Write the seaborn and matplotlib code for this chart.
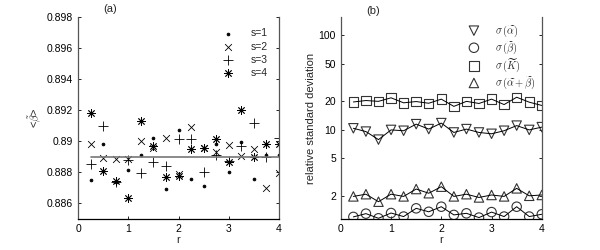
import numpy as np
import pandas as pd
import matplotlib
matplotlib.use('Agg')
import matplotlib.pyplot as plt
import seaborn as sns

# === Data ===
r = [0.25, 0.5, 0.75, 1.0, 1.25, 1.5, 1.75, 2.0, 2.25, 2.5, 2.75, 3.0, 3.25, 3.5, 3.75, 4.0]

beta_s1 = [0.88753, 0.88985, 0.88740, 0.88817, 0.88911, 0.89019, 0.88694, 0.89070,
           0.88757, 0.88711, 0.88985, 0.88800, 0.88996, 0.88757, 0.88911, 0.88911]
beta_s2 = [0.88981, 0.88891, 0.88889, 0.88889, 0.89000, 0.88960, 0.89019, 0.88790,
           0.89091, 0.88960, 0.88934, 0.88977, 0.88906, 0.88949, 0.88698, 0.88796]
beta_s3 = [0.88857, 0.89098, 0.88736, 0.88881, 0.88796, 0.88864, 0.88843, 0.89017,
           0.89013, 0.88804, 0.88910, 0.88874, 0.88970, 0.89115, 0.88896, 0.89019]
beta_s4 = [0.89183, 0.88809, 0.88747, 0.88636, 0.89130, 0.88970, 0.88768, 0.88774,
           0.88949, 0.88960, 0.89013, 0.88864, 0.89204, 0.88902, 0.88985, 0.88985]
beta_ref = 0.889

sd_alpha = [10.4, 9.6, 7.9, 10.0, 9.8, 11.5, 10.2, 11.8, 9.4, 10.2, 9.4, 9.1, 9.8, 11.1, 10.0, 10.7]
sd_beta = [1.21, 1.31, 1.17, 1.33, 1.22, 1.49, 1.37, 1.55, 1.27, 1.32, 1.19, 1.36, 1.22, 1.55, 1.22, 1.29]
sd_K = [19.7, 20.4, 20.0, 21.8, 19.3, 19.9, 19.1, 21.1, 17.7, 20.0, 19.0, 21.1, 18.5, 22.1, 19.6, 18.1]
sd_ab = [1.99, 2.10, 1.75, 2.10, 1.99, 2.38, 2.15, 2.52, 1.99, 2.10, 1.94, 2.06, 1.99, 2.42, 2.02, 2.06]

# === Style ===
sns.set_style('ticks')
plt.rcParams['font.family'] = ['Liberation Sans', 'DejaVu Sans']
plt.rcParams['mathtext.fontset'] = 'cm'
plt.rcParams['xtick.direction'] = 'in'
plt.rcParams['ytick.direction'] = 'in'

fig = plt.figure(figsize=(6, 2.5), dpi=100)
ax1 = fig.add_axes([0.13, 0.124, 0.335, 0.808])
ax2 = fig.add_axes([0.568, 0.124, 0.335, 0.808])

def style_axes(ax):
    for side in ['left', 'right', 'bottom']:
        ax.spines[side].set_color('#555555')
        ax.spines[side].set_linewidth(0.9)
    ax.spines['bottom'].set_color('black')
    ax.spines['top'].set_visible(False)
    ax.tick_params(labelsize=7.5, length=2.5, width=0.6, right=True, colors='black')

# === Panel (a) ===
sns.lineplot(x=[0.25, 4.0], y=[beta_ref, beta_ref], ax=ax1, color='#777777', lw=1.2)
series_a = [('s=1', beta_s1, 'o', 4), ('s=2', beta_s2, 'x', 24),
            ('s=3', beta_s3, '+', 42), ('s=4', beta_s4, (8, 2, 0), 32)]
for lab, vals, mk, sz in series_a:
    df = pd.DataFrame({'r': r, 'b': vals})
    sns.scatterplot(data=df, x='r', y='b', ax=ax1, marker=mk, s=sz,
                    color='black', edgecolor='black', linewidth=0.6, label=lab)
ax1.set_xlim(0, 4)
ax1.set_ylim(0.885, 0.898)
ax1.set_xticks([0, 1, 2, 3, 4])
ax1.set_yticks([0.886, 0.888, 0.89, 0.892, 0.894, 0.896, 0.898])
ax1.set_yticklabels(['0.886', '0.888', '0.89', '0.892', '0.894', '0.896', '0.898'])
ax1.set_xlabel('r', fontsize=8, labelpad=1)
ax1.set_ylabel(r'<$\tilde{\beta}$>', fontsize=8, labelpad=2)
ax1.text(0.64, 0.8982, '(a)', fontsize=8, ha='center', va='bottom')
style_axes(ax1)
ax1.legend(loc='upper right', frameon=False, fontsize=7.5, handletextpad=1.2,
           labelspacing=0.3, borderaxespad=0.5, borderpad=0.6)

# === Panel (b) ===
series_b = [(r'$\sigma\,(\widetilde{\alpha})$', sd_alpha, 'v'),
            (r'$\sigma\,(\widetilde{\beta})$', sd_beta, 'o'),
            (r'$\sigma\,(\widetilde{K})$', sd_K, 's'),
            (r'$\sigma\,(\widetilde{\alpha}+\widetilde{\beta})$', sd_ab, '^')]
for lab, vals, mk in series_b:
    df = pd.DataFrame({'r': r, 'v': vals})
    sns.lineplot(data=df, x='r', y='v', ax=ax2, color='black', lw=0.7)
    sns.scatterplot(data=df, x='r', y='v', ax=ax2, marker=mk, s=46,
                    facecolor='none', edgecolor='#333333', linewidth=0.8, label=lab)
ax2.set_yscale('log')
ax2.set_xlim(0, 4)
ax2.set_ylim(1.15, 155)
ax2.set_xticks([0, 1, 2, 3, 4])
ax2.set_yticks([2, 5, 10, 20, 50, 100])
ax2.set_yticklabels(['2', '5', '10', '20', '50', '100'])
ax2.yaxis.set_minor_locator(matplotlib.ticker.NullLocator())
ax2.set_xlabel('r', fontsize=8, labelpad=1)
ax2.set_ylabel('relative standard deviation', fontsize=8, labelpad=2)
ax2.text(0.64, 160, '(b)', fontsize=8, ha='center', va='bottom')
style_axes(ax2)
ax2.legend(loc='upper right', frameon=False, fontsize=7.5, handletextpad=1.0,
           labelspacing=0.05, borderaxespad=0.2)

fig.savefig('out.png', dpi=100)
